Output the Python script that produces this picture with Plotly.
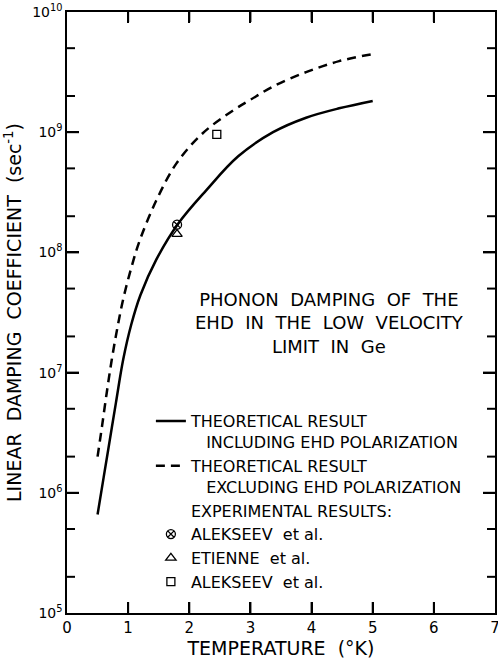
import plotly.graph_objects as go

# Temperature (K) and linear damping coefficient (1/s)
temp_incl = [0.5, 0.6, 0.7, 0.8, 0.92, 1.05, 1.2, 1.46, 1.82, 2.28, 2.8, 3.37, 3.91, 4.45, 5.0]
damp_incl = [6.6e5, 1.35e6, 2.75e6, 5.6e6, 1.29e7, 2.5e7, 4.4e7, 8.7e7, 1.74e8, 3.3e8,
             6.3e8, 1.0e9, 1.32e9, 1.58e9, 1.82e9]

temp_excl = [0.5, 0.57, 0.65, 0.73, 0.82, 0.92, 1.05, 1.19, 1.46, 1.79, 2.22, 2.71, 3.0,
             3.37, 3.91, 4.45, 5.0]
damp_excl = [2.0e6, 3.5e6, 6.8e6, 1.26e7, 2.3e7, 4.1e7, 7.4e7, 1.26e8, 2.7e8, 5.5e8, 9.8e8,
             1.51e9, 1.86e9, 2.4e9, 3.16e9, 3.9e9, 4.47e9]

exp_alekseev1_t = [1.8]
exp_alekseev1_d = [1.7e8]
exp_etienne_t = [1.8]
exp_etienne_d = [1.42e8]
exp_alekseev2_t = [2.45]
exp_alekseev2_d = [9.6e8]

x_ticks = [0, 1, 2, 3, 4, 5, 6, 7]
y_exponents = [5, 6, 7, 8, 9, 10]
y_major = [10.0 ** e for e in y_exponents]
y_labels = ["10<sup>%d</sup>" % e for e in y_exponents]
y_minor = [m * 10.0 ** e for e in y_exponents[:-1] for m in (2, 5)]

NB = "\u00a0"
SP2 = NB + " "

# plot-area geometry (pixels) used only to size the inward tick marks
W, H = 498, 662
ML, MR, MT, MB = 67, 3, 12, 49
px_per_x = (W - ML - MR) / (x_ticks[-1] - x_ticks[0])
px_per_dec = (H - MT - MB) / (y_exponents[-1] - y_exponents[0])

fig = go.Figure()

fig.add_trace(go.Scatter(
    x=temp_incl, y=damp_incl, mode="lines", line_shape="spline",
    line=dict(color="black", width=2.5),
    name="THEORETICAL RESULT<br>" + NB * 3 + "INCLUDING EHD POLARIZATION"))
fig.add_trace(go.Scatter(
    x=temp_excl, y=damp_excl, mode="lines", line_shape="spline",
    line=dict(color="black", width=2.5, dash="9px,6px"),
    name="THEORETICAL RESULT<br>" + NB * 3 + "EXCLUDING EHD POLARIZATION"))
fig.add_trace(go.Scatter(
    x=[None], y=[None], mode="markers",
    marker=dict(color="rgba(0,0,0,0)", size=1, line=dict(width=0)),
    name="EXPERIMENTAL RESULTS:", hoverinfo="skip"))
fig.add_trace(go.Scatter(
    x=exp_alekseev1_t, y=exp_alekseev1_d, mode="markers",
    marker=dict(symbol="circle-x-open", size=9, color="black", line=dict(width=1.3)),
    name="ALEKSEEV" + NB + NB + "et al."))
fig.add_trace(go.Scatter(
    x=exp_etienne_t, y=exp_etienne_d, mode="markers",
    marker=dict(symbol="triangle-up-open", size=9, color="black", line=dict(width=1.3)),
    name="ETIENNE" + NB + NB + "et al."))
fig.add_trace(go.Scatter(
    x=exp_alekseev2_t, y=exp_alekseev2_d, mode="markers",
    marker=dict(symbol="square-open", size=8, color="black", line=dict(width=1.3)),
    name="ALEKSEEV" + NB + NB + "et al."))

# Inward tick marks on all four sides, built from the tick value lists
tx, ty = [], []
x_lo, x_hi = x_ticks[0], x_ticks[-1]
y_lo, y_hi = y_major[0], y_major[-1]
for t in x_ticks[1:-1]:
    tx += [t, t, None, t, t, None]
    ty += [y_lo, y_lo * 10 ** (11 / px_per_dec), None,
           y_hi, y_hi / 10 ** (10 / px_per_dec), None]
for vals, length in ((y_major[1:-1], 12), (y_minor, 8)):
    dx = length / px_per_x
    for v in vals:
        tx += [x_lo, x_lo + dx, None, x_hi, x_hi - dx, None]
        ty += [v, v, None, v, v, None]
fig.add_trace(go.Scatter(
    x=tx, y=ty, mode="lines", line=dict(color="black", width=2),
    showlegend=False, hoverinfo="skip", connectgaps=False))

fig.add_annotation(
    text=SP2.join(["PHONON", "DAMPING", "OF", "THE"]) + "<br>"
    + SP2.join(["EHD", "IN", "THE", "LOW", "VELOCITY"]) + "<br>"
    + SP2.join(["LIMIT", "IN", "Ge"]),
    xref="paper", yref="paper", x=0.613, y=0.4825, xanchor="center", yanchor="middle",
    align="center", showarrow=False, font=dict(size=18, color="black"))

fig.update_layout(
    template="none",
    width=W, height=H,
    margin=dict(l=ML, r=MR, t=MT, b=MB),
    paper_bgcolor="white", plot_bgcolor="white",
    font=dict(family="DejaVu Sans", color="black", size=16),
    showlegend=True,
    legend=dict(x=0.196, y=0.3475, xanchor="left", yanchor="top", valign="top",
                bgcolor="rgba(0,0,0,0)", borderwidth=0, traceorder="normal",
                font=dict(size=16, color="black")),
)

fig.update_xaxes(
    range=[x_lo, x_hi], tickvals=x_ticks, ticktext=[str(v) for v in x_ticks],
    ticks="inside", ticklen=11, tickwidth=1.8, tickcolor="black",
    showline=True, linewidth=1.5, linecolor="black", mirror="allticks",
    showgrid=False, zeroline=False, tickfont=dict(size=15), automargin=False,
    ticklabeloverflow="allow",
    title=dict(text=SP2.join(["TEMPERATURE", "(°K)"]), font=dict(size=19), standoff=6),
)
fig.update_yaxes(
    type="log", range=[5, 10], tickvals=y_major, ticktext=y_labels,
    ticks="inside", ticklen=12, tickwidth=1.8, tickcolor="black",
    showline=True, linewidth=1.5, linecolor="black", mirror="allticks",
    showgrid=False, zeroline=False, tickfont=dict(size=14), automargin=False,
    title=dict(text=SP2.join(["LINEAR", "DAMPING", "COEFFICIENT", "(sec<sup>-1</sup>)"]),
               font=dict(size=19), standoff=6),
)

fig.write_html("out.html", config={"displayModeBar": False},
               post_script="document.body.style.margin='0';")
